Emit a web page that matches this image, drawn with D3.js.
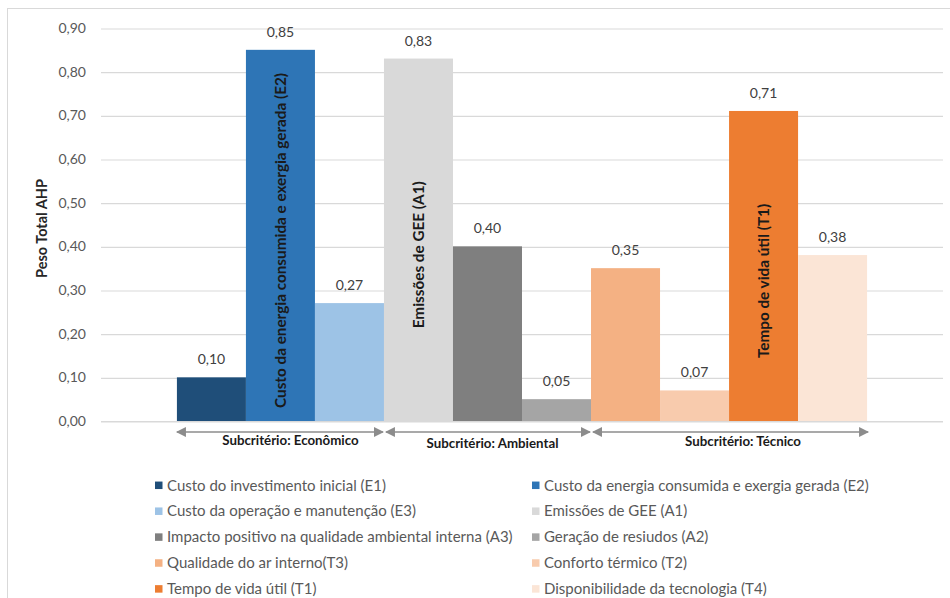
<!DOCTYPE html>
<html>
<head>
<meta charset="utf-8">
<script src="https://cdn.jsdelivr.net/npm/d3@7"></script>
<style>
  html, body { margin: 0; padding: 0; background: #fff; }
  svg { display: block; font-family: Lato, "Open Sans", sans-serif; }
</style>
</head>
<body>
<svg id="chart" width="950" height="598"></svg>
<script>
// Critérios e pesos totais AHP
const seriesNames = [
  "Custo do investimento inicial (E1)",
  "Custo da energia consumida e exergia gerada (E2)",
  "Custo da operação e manutenção (E3)",
  "Emissões de GEE (A1)",
  "Impacto positivo na qualidade ambiental interna (A3)",
  "Geração de resiudos (A2)",
  "Qualidade do ar interno(T3)",
  "Conforto térmico (T2)",
  "Tempo de vida útil (T1)",
  "Disponibilidade da tecnologia (T4)"
];
const weights = [0.10, 0.85, 0.27, 0.83, 0.40, 0.05, 0.35, 0.07, 0.71, 0.38];
const seriesColors = ["#1F4E79", "#2E75B6", "#9DC3E6", "#D9D9D9", "#7F7F7F",
                      "#A5A5A5", "#F4B183", "#F8CBAD", "#ED7D31", "#FBE5D6"];
// Rótulos escritos dentro da barra (em vez do valor)
const insideLabels = ["", "Custo da energia consumida e exergia gerada (E2)", "",
                      "Emissões de GEE (A1)", "", "", "", "", "Tempo de vida útil (T1)", ""];
// Subcritérios: nome e quantidade de critérios
const groupNames = ["Subcritério: Econômico", "Subcritério: Ambiental", "Subcritério: Técnico"];
const groupSizes = [3, 3, 4];
const yTicks = [0, 0.1, 0.2, 0.3, 0.4, 0.5, 0.6, 0.7, 0.8, 0.9];
const yTitle = "Peso Total AHP";

const fmt = v => d3.format(".2f")(v).replace(".", ",");

const svg = d3.select("#chart");
const plot = { left: 101, right: 943, top: 28, bottom: 421 };

// Moldura do gráfico
svg.append("rect")
  .attr("x", 7.5).attr("y", 8.5).attr("width", 980).attr("height", 620)
  .attr("fill", "none").attr("stroke", "#d9d9d9");

const y = d3.scaleLinear().domain([0, 0.9]).range([plot.bottom, plot.top]);
const x0 = d3.scaleBand().domain(["AHP"]).range([plot.left, plot.right])
  .paddingInner(0).paddingOuter(0.11);
const x1 = d3.scaleBand().domain(seriesNames).range([0, x0.bandwidth()]).padding(0);
const bx = name => x0("AHP") + x1(name);

// Linhas de grade e rótulos do eixo Y
const yAxis = d3.axisLeft(y).tickValues(yTicks).tickFormat(fmt)
  .tickSize(-(plot.right - plot.left)).tickPadding(15);
const gy = svg.append("g").attr("transform", `translate(${plot.left},0)`).call(yAxis);
gy.select(".domain").remove();
gy.selectAll(".tick line").attr("stroke", "#d9d9d9").attr("stroke-width", 1.2)
  .attr("transform", "translate(0,0.5)");
gy.selectAll(".tick text").attr("fill", "#595959").attr("font-size", 14)
  .attr("font-family", "Lato, sans-serif");

svg.append("text")
  .attr("transform", `translate(47,${(plot.top + plot.bottom) / 2 + 4}) rotate(-90)`)
  .attr("text-anchor", "middle")
  .attr("font-size", 14.5).attr("font-weight", "bold").attr("fill", "#262626")
  .text(yTitle);

// Barras
const data = seriesNames.map((n, i) => ({ name: n, value: weights[i], color: seriesColors[i], inside: insideLabels[i] }));
svg.append("g").selectAll("rect").data(data).join("rect")
  .attr("x", d => bx(d.name))
  .attr("width", x1.bandwidth())
  .attr("y", d => y(d.value))
  .attr("height", d => y(0) - y(d.value))
  .attr("fill", d => d.color);

// Eixo horizontal
svg.append("line")
  .attr("x1", plot.left).attr("x2", plot.right)
  .attr("y1", plot.bottom + 0.5).attr("y2", plot.bottom + 0.5)
  .attr("stroke", "#d9d9d9").attr("stroke-width", 1.2);

// Rótulos de valor
svg.append("g").selectAll("text").data(data).join("text")
  .attr("x", d => bx(d.name) + x1.bandwidth() / 2)
  .attr("y", d => y(d.value) - 13)
  .attr("text-anchor", "middle")
  .attr("font-size", 14).attr("fill", "#404040")
  .text(d => fmt(d.value));

// Rótulos verticais dentro das barras
const inner = svg.append("g").selectAll("text").data(data.filter(d => d.inside)).join("text")
  .attr("text-anchor", "middle")
  .attr("font-size", 15.3).attr("font-weight", "bold").attr("fill", "#1a1a1a")
  .text(d => d.inside);
inner.each(function (d) {
  const len = this.getComputedTextLength();
  const cx = bx(d.name) + x1.bandwidth() / 2;
  let cy = (y(d.value) + y(0)) / 2 + 15;
  cy = Math.min(cy, y(0) - 13 - len / 2);
  d3.select(this).attr("transform", `translate(${cx + 5.5},${cy}) rotate(-90)`);
});

// Setas dos subcritérios
const defs = svg.append("defs");
defs.append("marker").attr("id", "tip")
  .attr("viewBox", "0 0 10 10").attr("refX", 9).attr("refY", 5)
  .attr("markerWidth", 10).attr("markerHeight", 10).attr("markerUnits", "userSpaceOnUse")
  .attr("orient", "auto-start-reverse")
  .append("path").attr("d", "M0,0 L10,5 L0,10 Z").attr("fill", "#8c8c8c");

let start = 0;
const groups = groupNames.map((g, i) => {
  const first = seriesNames[start], last = seriesNames[start + groupSizes[i] - 1];
  start += groupSizes[i];
  return { name: g, x1: bx(first), x2: bx(last) + x1.bandwidth() };
});
const arrowY = 432;
const ga = svg.append("g");
groups.forEach((g, i) => {
  ga.append("line")
    .attr("x1", g.x1 + (i === 0 ? 0 : 2)).attr("x2", g.x2 + (i === groups.length - 1 ? 1 : -1))
    .attr("y1", arrowY).attr("y2", arrowY)
    .attr("stroke", "#8c8c8c").attr("stroke-width", 1.5)
    .attr("marker-start", "url(#tip)").attr("marker-end", "url(#tip)");
  ga.append("text")
    .attr("x", (g.x1 + g.x2) / 2 + [10, 5, 14][i])
    .attr("y", arrowY + [13, 16, 14][i])
    .attr("text-anchor", "middle")
    .attr("font-size", 13.3).attr("font-weight", "bold").attr("fill", "#1a1a1a")
    .text(g.name);
});

// Legenda em duas colunas
const legendCols = [155, 532];
const legend = svg.append("g").selectAll("g").data(data).join("g")
  .attr("transform", (d, i) => `translate(${legendCols[i % 2]},${485.3 + Math.floor(i / 2) * 25.9})`);
legend.append("rect").attr("x", 0).attr("y", -3.75).attr("width", 7.5).attr("height", 7.5)
  .attr("fill", d => d.color);
legend.append("text").attr("x", 12).attr("y", 0).attr("dy", "0.35em")
  .attr("font-size", 15).attr("fill", "#595959")
  .text(d => d.name);
</script>
</body>
</html>
